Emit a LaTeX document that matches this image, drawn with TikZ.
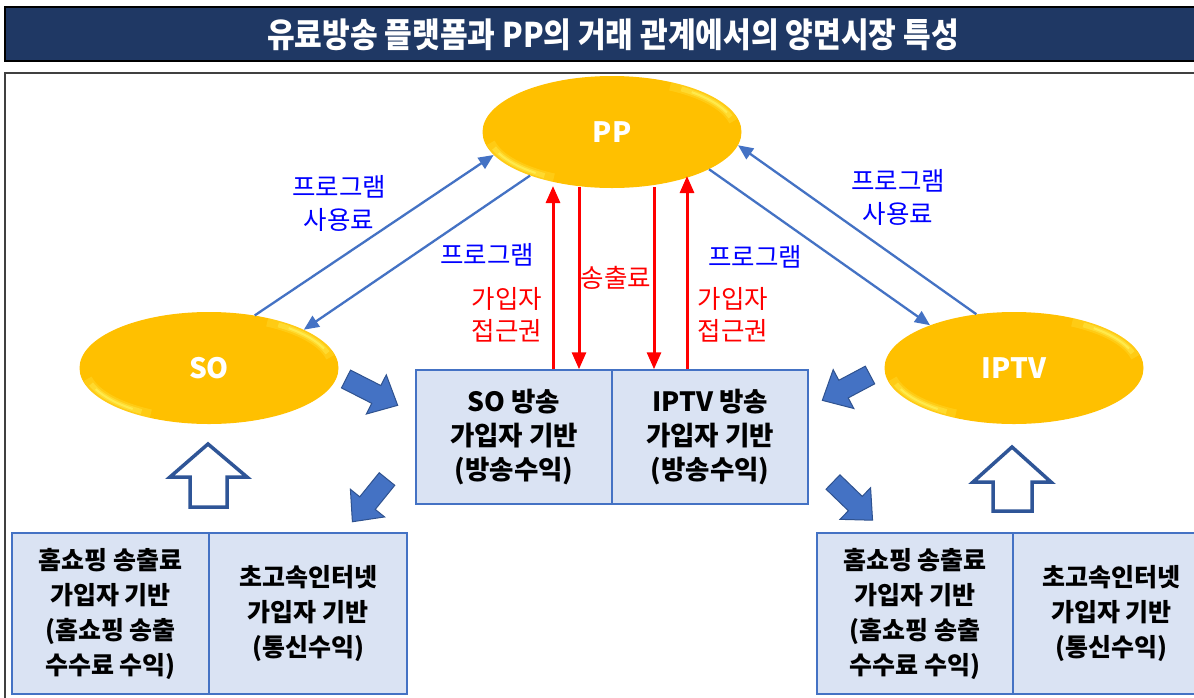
\documentclass[tikz,border=0pt]{standalone}
\usepackage{fontspec}
\usepackage{graphicx}
\setmainfont{Noto Sans CJK KR}
\usetikzlibrary{shapes.geometric,arrows.meta}
\definecolor{navy}{HTML}{1F3864}
\definecolor{gold}{HTML}{FFC000}
\definecolor{glowc}{HTML}{FFFF70}
\definecolor{boxfill}{HTML}{DAE3F3}
\definecolor{boxline}{HTML}{4472C4}
\definecolor{arrblue}{HTML}{4472C4}
\definecolor{arrdark}{HTML}{2F528F}
\definecolor{outl}{HTML}{2F5597}
\definecolor{lblblue}{HTML}{0000FF}
\definecolor{lblred}{HTML}{FF0000}
\newcommand{\fatarr}[4]{%
  \path[fatstyle, shift={(#1,#2)}, rotate=#3] (0,10) -- ({#4-24},10) -- ({#4-24},22) -- (#4,0) -- ({#4-24},-22) -- ({#4-24},-10) -- (0,-10) -- cycle;}
\newcommand{\glowell}[2]{%
  \begin{scope}
    \clip (#1,#2) ellipse [x radius=129.5, y radius=56];
    \draw[glowc, line width=9pt, opacity=.18] (#1,#2) ++(118:124 and 52) arc[start angle=118, end angle=168, x radius=124, y radius=52];
    \draw[glowc, line width=5pt, opacity=.3] (#1,#2) ++(123:124 and 52) arc[start angle=123, end angle=162, x radius=124, y radius=52];
    \draw[glowc, line width=2pt, opacity=.45] (#1,#2) ++(128:124 and 52) arc[start angle=128, end angle=156, x radius=124, y radius=52];
    \draw[glowc, line width=9pt, opacity=.18] (#1,#2) ++(-12:124 and 52) arc[start angle=-12, end angle=-62, x radius=124, y radius=52];
    \draw[glowc, line width=5pt, opacity=.3] (#1,#2) ++(-17:124 and 52) arc[start angle=-17, end angle=-56, x radius=124, y radius=52];
    \draw[glowc, line width=2pt, opacity=.45] (#1,#2) ++(-22:124 and 52) arc[start angle=-22, end angle=-50, x radius=124, y radius=52];
  \end{scope}}
\begin{document}
\begin{tikzpicture}[x=1pt,y=-1pt,
  ell/.style={ellipse, fill=gold, minimum width=259pt, minimum height=112pt, inner sep=0pt},
  ellText/.style={text=white, inner sep=0pt, font=\bfseries\fontsize{28}{30}\selectfont},
  cell/.style={draw=boxline, fill=boxfill, line width=1.5pt, inner sep=0pt, align=center},
  midfont/.style={font=\bfseries\fontsize{26.5}{34}\selectfont},
  botfont/.style={font=\bfseries\fontsize{25}{35}\selectfont},
  bluelbl/.style={text=lblblue, align=center, inner sep=0pt, font=\fontsize{25.5}{33}\selectfont},
  redlbl/.style={text=lblred, align=center, inner sep=0pt, font=\fontsize{25.5}{32}\selectfont},
  thinarr/.style={draw=arrblue, line width=2.3pt, -{Triangle[width=13pt,length=15pt]}},
  redarr/.style={draw=lblred, line width=3pt, -{Triangle[width=14pt,length=17pt]}},
  fatstyle/.style={fill=arrblue, draw=arrdark, line width=1pt},
  hollow/.style={fill=white, draw=outl, line width=3.5pt, line join=miter}
]
\useasboundingbox (0,0) rectangle (1194,697);
\clip (0,0) rectangle (1194,697);
\fill[white] (0,0) rectangle (1194,697);

% title bar
\draw[fill=navy, draw=black, line width=1.5pt] (5,7) rectangle (1210,61);
\node[text=white, inner sep=0pt] (title) at (613,35) {\scalebox{0.885}[1]{\bfseries\fontsize{34}{36}\selectfont 유료방송 플랫폼과 PP의 거래 관계에서의 양면시장 특성}};

% frame
\draw[draw=black!75, line width=2pt] (5,73) rectangle (1210,720);

% ellipses
\node[ell] (PP) at (612,132) {};
\node[ell] (SO) at (209,368) {};
\node[ell] (IPTV) at (1014,368) {};
\glowell{612}{132}
\glowell{209}{368}
\glowell{1014}{368}
\node[ellText] (PPt) at (PP.center) {PP};
\node[ellText] (SOt) at (SO.center) {SO};
\node[ellText] (IPTVt) at (IPTV.center) {IPTV};

% middle boxes
\node[cell, midfont, minimum width=196pt, minimum height=134pt] (midL) at (514,437) {SO 방송\\가입자 기반\\(방송수익)};
\node[cell, midfont, minimum width=196pt, minimum height=134pt] (midR) at (710,437) {IPTV 방송\\가입자 기반\\(방송수익)};

% bottom boxes
\node[cell, botfont, minimum width=197pt, minimum height=161pt] (blL) at (110.5,613.5) {홈쇼핑 송출료\\가입자 기반\\(홈쇼핑 송출\\수수료 수익)};
\node[cell, botfont, minimum width=198pt, minimum height=161pt] (blR) at (308,613.5) {초고속인터넷\\가입자 기반\\(통신수익)};
\node[cell, botfont, minimum width=196pt, minimum height=161pt] (brL) at (915,613.5) {홈쇼핑 송출료\\가입자 기반\\(홈쇼핑 송출\\수수료 수익)};
\node[cell, botfont, minimum width=197pt, minimum height=161pt] (brR) at (1111.5,613.5) {초고속인터넷\\가입자 기반\\(통신수익)};

% thin blue arrows
\draw[thinarr] (SO.49) -- (PP.191);
\draw[thinarr] (PP.208) -- (SO.22);
\draw[thinarr] (PP.-21) -- (IPTV.153);
\draw[thinarr] (IPTV.125) -- (PP.-6);

% red arrows
\coordinate (r1) at (553,186);
\coordinate (r2) at (579,187);
\coordinate (r3) at (654,187);
\coordinate (r4) at (687,176);
\draw[redarr] (midL.north -| r1) -- (r1);
\draw[redarr] (r2) -- (midL.north -| r2);
\draw[redarr] (r3) -- (midR.north -| r3);
\draw[redarr] (midR.north -| r4) -- (r4);

% labels
\node[bluelbl] (l1) at (339,203) {프로그램\\사용료};
\node[bluelbl] (l2) at (487,255) {프로그램};
\node[bluelbl] (l3) at (898,197) {프로그램\\사용료};
\node[bluelbl] (l4) at (755,257) {프로그램};
\node[redlbl] (l5) at (616,278) {송출료};
\node[redlbl] (l6) at (507,315) {가입자\\접근권};
\node[redlbl] (l7) at (733,315) {가입자\\접근권};

% fat arrows
\fatarr{346}{379}{-27}{58}
\fatarr{387}{479}{-129}{55}
\fatarr{870}{375}{-152}{54}
\fatarr{833}{482}{-44}{55}

% hollow up arrows
\path[hollow] (190,507) -- (190,477) -- (170,477) -- (208,444) -- (247,477) -- (227,477) -- (227,507) -- cycle;
\path[hollow] (993,511) -- (993,482) -- (973,482) -- (1012,447) -- (1051,482) -- (1032,482) -- (1032,511) -- cycle;
\end{tikzpicture}
\end{document}
